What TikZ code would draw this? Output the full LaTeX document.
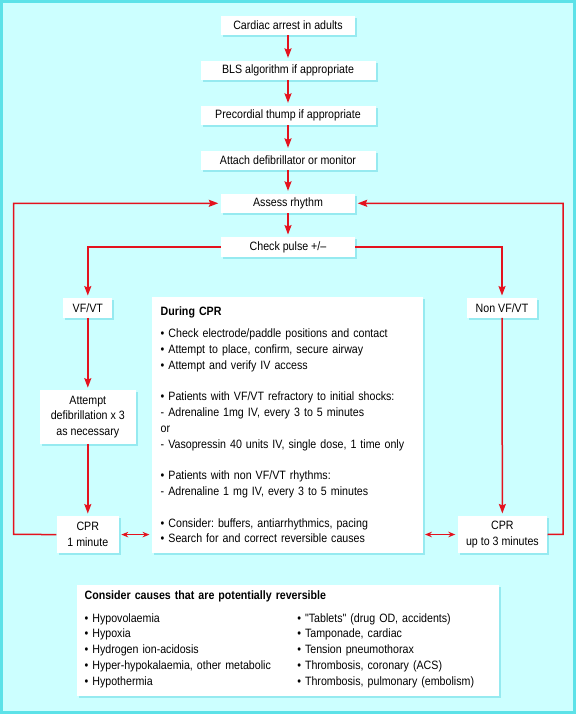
\documentclass[tikz,border=0pt]{standalone}
\usepackage{fontspec}
\setmainfont{Liberation Sans}[FakeStretch=0.88]
\newfontfamily\plainquote{Liberation Sans}[FakeStretch=0.88]
\usepackage{xcolor}
\usepackage{tikz}
\usetikzlibrary{shapes,arrows.meta,positioning,shadows}
\frenchspacing

\definecolor{bgcyan}{RGB}{204,255,255}
\definecolor{framecyan}{RGB}{92,226,232}
\definecolor{shadowcyan}{RGB}{150,234,240}
\definecolor{arrowred}{RGB}{228,18,30}

\begin{document}
\begin{tikzpicture}[x=1pt, y=1pt, node distance=45pt, auto,
    font=\fontsize{12.1}{15.8}\selectfont,
    >={Stealth[length=9.5pt, width=7pt, inset=1.5pt]}]
    % Define styles
    \tikzstyle{process} = [rectangle, fill=white, inner sep=0pt, minimum height=19.5pt, align=center, general shadow={fill=shadowcyan, shadow xshift=2pt, shadow yshift=-2pt}]
    \tikzstyle{panel} = [process, align=left, inner xsep=9pt, inner ysep=0pt]
    \tikzstyle{line} = [draw=arrowred, line width=1.5pt, shorten >=2.5pt]
    \tikzstyle{twoway} = [draw=arrowred, line width=1.5pt, shorten >=2pt, shorten <=2pt, {Stealth[length=7pt, width=5.5pt]}-{Stealth[length=7pt, width=5.5pt]}]

    % Frame
    \useasboundingbox (0,0) rectangle (576,-714);
    \draw[draw=framecyan, fill=bgcyan, line width=3pt] (1.5,-1.5) rectangle (574.5,-712.5);

    % Nodes
    \node[process, minimum width=134pt] (start) at (288,-25.3) {Cardiac arrest in adults};
    \node[process, minimum width=175pt, below of=start] (bls) {BLS algorithm if appropriate};
    \node[process, minimum width=175pt, below of=bls] (thump) {Precordial thump if appropriate};
    \node[process, minimum width=175pt, below of=thump] (attach) {Attach defibrillator or monitor};
    \node[process, minimum width=134pt, below of=attach, yshift=2pt] (assess) {Assess rhythm};
    \node[process, minimum width=134pt, below of=assess, yshift=1.3pt] (pulse) {Check pulse +/–};
    \node[process, minimum width=49pt, below of=pulse, xshift=-200.2pt, yshift=-16pt] (vfvt) {VF/VT};
    \node[process, minimum width=70.7pt, below of=pulse, xshift=214pt, yshift=-16pt] (nonvf) {Non VF/VT};
    \node[process, minimum width=95.7pt, minimum height=53.3pt, below of=vfvt, yshift=-64pt] (defib) {Attempt\\defibrillation x 3\\as necessary};
    \node[process, minimum width=62.6pt, minimum height=36.7pt, below of=defib, yshift=-72.6pt] (cpr1) {CPR\\1 minute};
    \node[process, minimum width=89.8pt, minimum height=36.7pt, below of=nonvf, yshift=-181.5pt, xshift=0.4pt] (cpr3) {CPR\\up to 3 minutes};
    \node[panel, text width=253pt, minimum height=255.4pt, below of=pulse, xshift=-0.8pt, yshift=-133pt] (during) {%
        \textbf{During CPR}\\[5.8pt]
        • Check electrode/paddle positions and contact\\
        • Attempt to place, confirm, secure airway\\
        • Attempt and verify IV access\\[15.8pt]
        • Patients with VF/VT refractory to initial shocks:\\
        - Adrenaline 1mg IV, every 3 to 5 minutes\\
        or\\
        - Vasopressin 40 units IV, single dose, 1 time only\\[15.8pt]
        • Patients with non VF/VT rhythms:\\
        - Adrenaline 1 mg IV, every 3 to 5 minutes\\[15.8pt]
        • Consider: buffers, antiarrhythmics, pacing\\
        • Search for and correct reversible causes};
    \node[panel, inner xsep=8pt, text width=406.8pt, minimum height=111pt, below of=during, xshift=0.8pt, yshift=-170.5pt] (causes) {%
        \textbf{Consider causes that are potentially reversible}\\[6.6pt]
        \begin{tabular}[t]{@{}p{212.7pt}@{}l@{}}
        • Hypovolaemia & • {\plainquote"}Tablets{\plainquote"} (drug OD, accidents)\\
        • Hypoxia & • Tamponade, cardiac\\
        • Hydrogen ion-acidosis & • Tension pneumothorax\\
        • Hyper-hypokalaemia, other metabolic & • Thrombosis, coronary (ACS)\\
        • Hypothermia & • Thrombosis, pulmonary (embolism)
        \end{tabular}};

    % Loop corners
    \coordinate (lloop) at (13.6,-534.3);
    \coordinate (rloop) at (563,-534.3);

    % Connections
    \draw[line, ->] (start) -- (bls);
    \draw[line, ->] (bls) -- (thump);
    \draw[line, ->] (thump) -- (attach);
    \draw[line, ->] (attach) -- (assess);
    \draw[line, ->] (assess) -- (pulse);
    \draw[line, ->] (pulse) -| (vfvt);
    \draw[line, ->] (pulse) -| (nonvf);
    \draw[line, ->] (vfvt) -- (defib);
    \draw[line, ->] (defib) -- (cpr1);
    \draw[line, ->] (nonvf) -- (cpr3);
    \draw[line, ->] (cpr1.west) -- (lloop) |- (assess.west);
    \draw[line, ->] (cpr3.east) -- (rloop) |- (assess.east);
    \draw[twoway] (cpr1.east) -- (cpr1.east -| during.west);
    \draw[twoway] (cpr3.west -| during.east) -- (cpr3.west);
\end{tikzpicture}
\end{document}
